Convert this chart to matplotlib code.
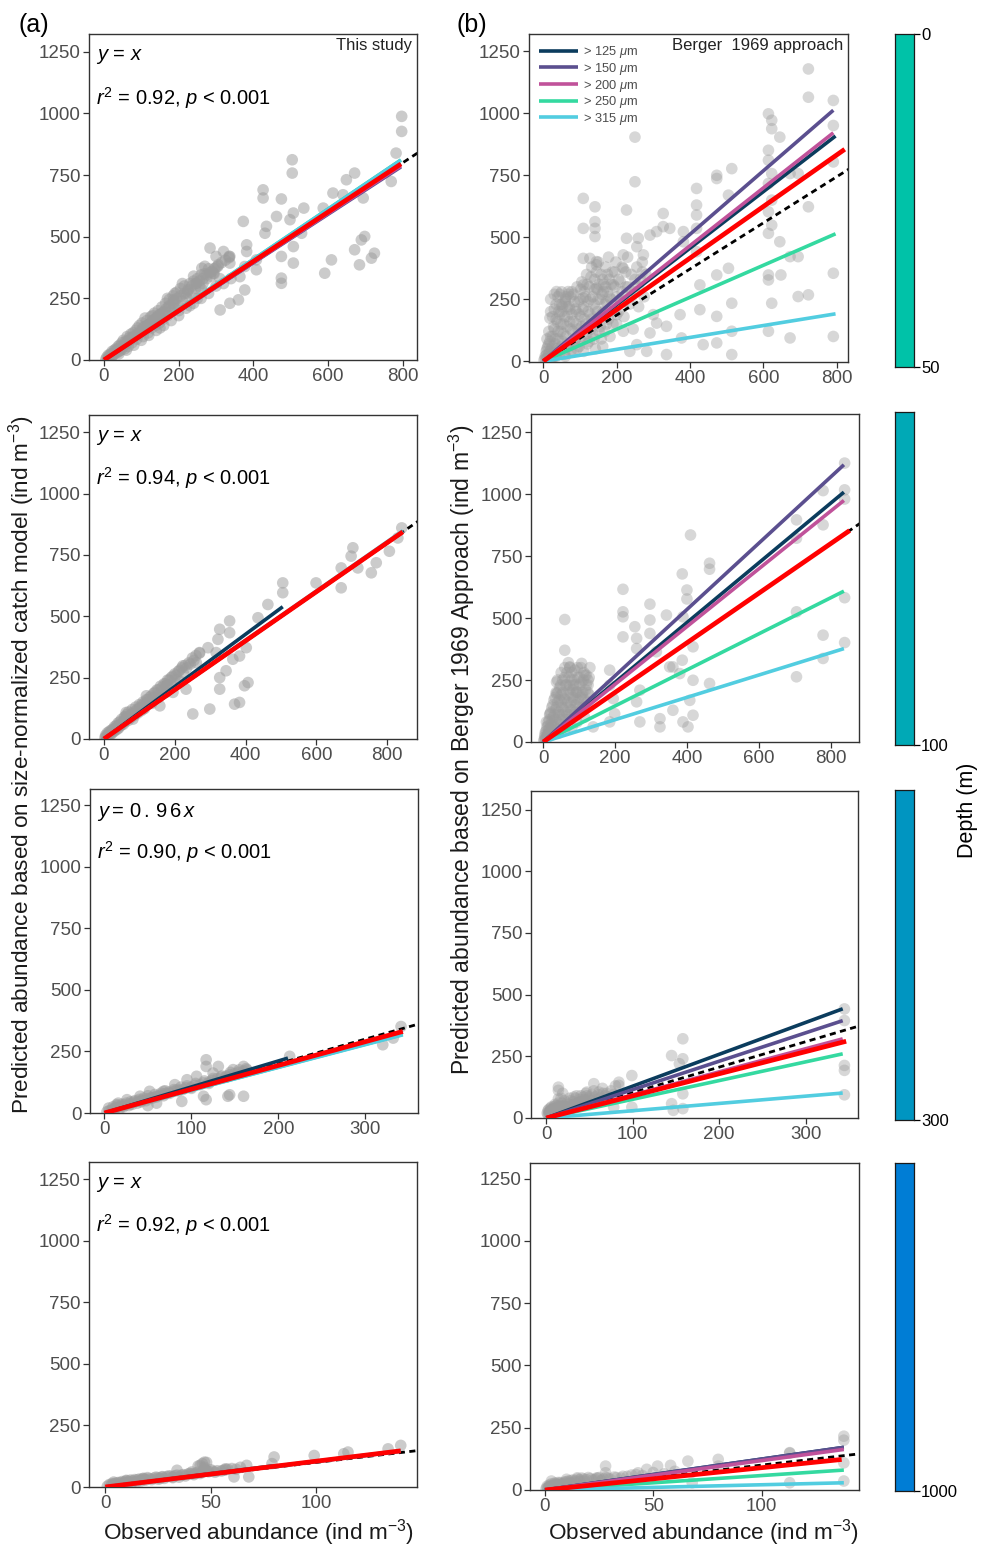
import matplotlib
matplotlib.use("Agg")
import matplotlib.pyplot as plt

plt.rcParams['font.family'] = ['Liberation Sans', 'DejaVu Sans']
plt.rcParams['mathtext.fontset'] = 'custom'
plt.rcParams['mathtext.rm'] = 'Liberation Sans'
plt.rcParams['mathtext.it'] = 'Liberation Sans:italic'

# ---- data ----
fractions = ["> 125 $\\mu$m", "> 150 $\\mu$m", "> 200 $\\mu$m", "> 250 $\\mu$m", "> 315 $\\mu$m"]
frac_colors = ["#0b3c5d", "#5b4f8f", "#c0529a", "#34d9a0", "#52cde0"]
depth_ranges = [(0, 50), (50, 100), (100, 300), (300, 1000)]
depth_colors = ["#00c2a8", "#00a9b6", "#0095c1", "#007dd5"]

# panel (a): size-normalized catch model
a1_pts = [(797, 988), (797, 927), (782, 839), (769, 724), (504, 812), (504, 758), (426, 690), (426, 657),
          (475, 653), (373, 562), (535, 616), (507, 596), (498, 569), (435, 542), (431, 514), (462, 582),
          (475, 332), (475, 311), (591, 352), (609, 406), (684, 386), (671, 447), (698, 501), (689, 487),
          (724, 433), (716, 413), (649, 731), (671, 758), (694, 657), (640, 670), (613, 677), (587, 616),
          (529, 514), (507, 460), (475, 420), (507, 393), (408, 406), (408, 366), (377, 379), (364, 338),
          (382, 467), (382, 440), (337, 420), (337, 393), (284, 454), (306, 386), (311, 203), (337, 230),
          (360, 244), (377, 284), (262, 372), (293, 352), (248, 311), (222, 271), (186, 244), (150, 176),
          (115, 135),
          (5, 3), (8, 12), (10, 5), (12, 20), (15, 10), (18, 25), (20, 15), (22, 35), (25, 20), (28, 40),
          (30, 28), (32, 45), (35, 30), (38, 55), (40, 35), (42, 60), (45, 40), (48, 70), (50, 50), (52, 80),
          (55, 45), (58, 75), (60, 65), (62, 95), (65, 55), (68, 90), (70, 80), (72, 105), (75, 70), (78, 110),
          (80, 95), (85, 120), (88, 85), (90, 130), (92, 100), (95, 140), (100, 115), (102, 150), (105, 95),
          (108, 135), (110, 120), (115, 160), (118, 110), (120, 145), (125, 175), (128, 130), (130, 160),
          (135, 190), (138, 140), (140, 170), (145, 200), (148, 150), (150, 185), (155, 215), (158, 165),
          (160, 195), (165, 230), (170, 180), (172, 215), (175, 245), (180, 200), (185, 260), (188, 210),
          (190, 240), (195, 275), (200, 220), (205, 290), (210, 240), (215, 300), (220, 255), (225, 285),
          (230, 310), (235, 270), (240, 320), (245, 290), (250, 330), (255, 300), (260, 345), (265, 310),
          (270, 350), (275, 330), (280, 370), (285, 340), (290, 360), (295, 350), (300, 375), (250, 250),
          (200, 180), (150, 130), (100, 80), (260, 290), (230, 220), (310, 330),
          (15, 18), (25, 30), (35, 42), (45, 55), (55, 62), (65, 78), (75, 90), (85, 100), (95, 115),
          (105, 130), (115, 140), (125, 150), (135, 165), (145, 180), (155, 190), (165, 205), (175, 220),
          (185, 230), (195, 250), (205, 260), (215, 270), (225, 280), (235, 300), (245, 310), (255, 320),
          (265, 330), (275, 345), (285, 355), (295, 370), (305, 380), (315, 395), (325, 405), (335, 415),
          (120, 100), (140, 120), (160, 140), (180, 160), (200, 200), (220, 210), (240, 230), (260, 250),
          (280, 270), (300, 300), (320, 310), (340, 330), (60, 40), (80, 60), (40, 25), (20, 10), (110, 170),
          (130, 180), (170, 250), (190, 270), (210, 310), (240, 340), (270, 380), (300, 420), (320, 440),
          (335, 420)]
a2_pts = [(841, 860), (830, 819), (806, 765), (769, 718), (755, 677), (703, 779), (698, 745), (717, 697),
          (670, 697), (670, 616), (599, 636), (505, 636), (505, 596), (463, 548), (435, 494), (355, 481),
          (327, 447), (322, 406), (355, 433), (317, 352), (345, 278), (327, 250), (327, 203), (299, 122),
          (251, 102), (383, 149), (369, 142), (407, 230), (397, 217), (402, 372), (383, 338), (364, 325),
          (294, 372), (270, 352), (261, 311), (223, 298), (232, 203), (195, 190), (176, 217), (158, 135),
          (120, 176), (111, 122), (82, 81), (63, 108), (44, 54),
          (3, 5), (5, 15), (8, 8), (10, 25), (12, 12), (15, 30), (18, 18), (20, 35), (22, 22), (25, 40),
          (28, 30), (30, 50), (32, 35), (35, 55), (38, 40), (40, 65), (42, 45), (45, 70), (48, 55), (50, 80),
          (55, 60), (58, 90), (60, 70), (65, 100), (68, 75), (70, 110), (75, 85), (80, 120), (85, 95),
          (90, 130), (95, 105), (100, 140), (105, 115), (110, 150), (115, 125), (120, 160), (130, 170),
          (135, 145), (140, 185), (150, 200), (155, 170), (160, 215), (170, 225), (175, 190), (180, 240),
          (190, 250), (195, 215), (200, 265), (210, 275), (215, 235), (220, 290), (230, 300), (240, 310),
          (250, 330), (260, 340), (270, 350),
          (6, 10), (14, 22), (24, 32), (34, 45), (44, 58), (54, 70), (64, 85), (74, 95), (84, 110), (94, 120),
          (104, 135), (114, 145), (124, 160), (134, 175), (144, 190), (154, 200), (164, 210), (174, 225),
          (184, 240), (194, 255), (204, 260), (214, 280), (224, 270), (234, 290), (244, 305), (254, 320),
          (60, 90), (80, 100), (100, 125), (120, 140), (140, 165), (160, 190), (180, 220), (200, 240),
          (30, 40), (40, 50), (50, 60), (70, 85), (90, 105), (110, 130)]
a3_pts = [(341, 351), (332, 304), (320, 277), (213, 230), (160, 189), (148, 176), (144, 74), (142, 68),
          (160, 68), (117, 216), (117, 189), (114, 68), (117, 54), (89, 47), (131, 189), (125, 162),
          (106, 149), (95, 135), (81, 115), (68, 88), (52, 88), (41, 68), (26, 54), (14, 34),
          (3, 5), (5, 20), (8, 10), (10, 25), (12, 15), (15, 30), (18, 20), (20, 35), (22, 25), (25, 40),
          (28, 30), (30, 45), (32, 35), (35, 50), (38, 40), (40, 55), (42, 45), (45, 60), (48, 50), (50, 70),
          (55, 60), (58, 75), (60, 65), (65, 80), (68, 70), (70, 90), (75, 80), (80, 95), (85, 90), (88, 105),
          (90, 95), (95, 110), (100, 105), (105, 120), (110, 115), (115, 130), (120, 125), (125, 140),
          (130, 140), (135, 150), (140, 150), (145, 165), (150, 160), (155, 175), (160, 170), (163, 180),
          (6, 10), (14, 22), (24, 32), (34, 45), (44, 52), (54, 62), (64, 72), (74, 85), (84, 95), (94, 102),
          (104, 112), (114, 122), (124, 132), (134, 145), (144, 155), (154, 165), (164, 175), (30, 38),
          (40, 48), (50, 58), (60, 68), (70, 78), (80, 88), (100, 100), (120, 120), (140, 145), (10, 15),
          (20, 28), (16, 40), (50, 30), (60, 40)]
a4_pts = [(140, 169), (134, 155), (115, 142), (113, 135), (99, 128), (80, 122), (79, 95), (67, 88),
          (68, 41), (61, 41), (57, 74), (47, 101), (47, 74), (45, 88), (41, 61), (34, 68), (32, 41),
          (26, 34), (18, 34), (10, 27), (4, 20),
          (1, 3), (2, 10), (3, 6), (4, 14), (5, 8), (6, 18), (7, 12), (8, 22), (9, 15), (10, 25), (11, 18),
          (12, 28), (13, 20), (14, 30), (15, 22), (16, 32), (17, 25), (18, 35), (19, 28), (20, 38), (22, 30),
          (24, 40), (25, 32), (27, 42), (28, 35), (30, 45), (32, 38), (34, 48), (35, 40), (37, 50), (38, 45),
          (40, 55), (42, 50), (44, 60), (45, 55), (47, 80), (48, 65), (50, 70), (52, 60), (55, 65), (57, 70),
          (60, 75), (62, 72), (64, 80),
          (3, 12), (5, 15), (7, 18), (9, 20), (11, 22), (13, 25), (15, 28), (17, 30), (19, 32), (21, 34),
          (23, 36), (25, 38), (27, 40), (29, 42), (31, 44), (33, 46), (36, 48), (39, 52), (41, 54), (43, 56),
          (46, 60), (49, 62), (51, 64), (53, 66), (56, 68), (58, 72), (46, 95), (48, 100), (44, 85)]

# panel (b): Berger 1969 approach
b1_pts = [(723, 1179), (723, 1065), (791, 1052), (791, 951), (791, 804), (791, 355), (791, 100), (614, 998),
          (623, 972), (623, 938), (645, 904), (614, 851), (614, 811), (623, 757), (614, 717), (623, 650),
          (614, 603), (623, 549), (614, 516), (645, 482), (673, 757), (695, 757), (723, 623), (673, 422),
          (695, 422), (614, 348), (614, 328), (648, 348), (623, 234), (695, 261), (723, 268), (614, 121),
          (673, 94), (514, 777), (473, 750), (473, 737), (505, 670), (418, 697), (418, 630), (418, 590),
          (418, 536), (418, 442), (427, 308), (427, 208), (436, 67), (473, 181), (473, 74), (514, 234),
          (514, 121), (514, 27), (505, 375), (473, 348), (382, 523), (382, 482), (327, 596), (327, 543),
          (291, 509), (309, 523), (345, 536), (373, 188), (377, 94), (336, 141), (336, 27), (309, 154),
          (300, 188), (291, 114), (250, 904), (250, 724), (227, 610), (227, 496), (218, 429), (259, 496),
          (218, 375), (255, 462), (273, 429), (109, 657), (109, 536), (141, 623), (141, 563), (141, 536),
          (141, 503), (109, 415), (127, 415), (145, 402), (145, 389), (191, 308), (164, 281), (145, 295),
          (109, 308), (109, 255), (36, 281), (68, 281), (18, 174), (45, 228), (200, 188), (218, 121),
          (236, 40), (282, 40), (255, 67),
          (2, 5), (5, 20), (8, 40), (10, 10), (12, 60), (15, 30), (18, 80), (20, 15), (22, 50), (25, 100),
          (28, 35), (30, 130), (32, 70), (35, 20), (38, 160), (40, 90), (42, 45), (45, 190), (48, 120),
          (50, 60), (52, 220), (55, 150), (58, 30), (60, 250), (62, 100), (65, 180), (68, 270), (70, 60),
          (72, 210), (75, 130), (78, 280), (80, 40), (82, 160), (85, 240), (88, 90), (90, 200), (92, 300),
          (95, 130), (98, 60), (100, 250), (102, 180), (105, 320), (108, 100), (110, 220), (112, 280),
          (115, 150), (118, 350), (120, 70), (122, 240), (125, 300), (128, 190), (130, 130), (132, 380),
          (135, 260), (138, 90), (140, 330), (142, 210), (145, 160), (148, 290), (150, 400), (152, 120),
          (155, 250), (158, 350), (160, 190), (162, 60), (165, 310), (168, 230), (170, 380), (172, 150),
          (175, 280), (178, 420), (180, 330), (182, 100), (185, 250), (188, 360), (190, 200), (195, 300),
          (198, 400), (200, 150), (205, 330), (210, 250), (215, 380), (220, 180), (225, 300), (230, 420),
          (235, 230), (240, 350), (245, 130), (250, 280), (255, 380), (260, 220), (265, 330), (270, 400),
          (275, 260), (280, 350), (30, 270), (40, 260), (20, 200), (50, 280), (60, 240), (35, 230),
          (5, 10), (8, 25), (10, 50), (12, 15), (15, 70), (18, 40), (20, 100), (22, 10), (25, 60), (28, 140),
          (30, 20), (32, 90), (35, 170), (38, 50), (40, 120), (42, 200), (45, 30), (48, 150), (50, 230),
          (52, 80), (55, 110), (58, 180), (60, 20), (62, 260), (65, 140), (68, 70), (70, 220), (72, 160),
          (75, 40), (78, 190), (80, 120), (82, 270), (85, 80), (88, 210), (90, 150), (92, 50), (95, 240),
          (98, 190), (100, 90), (102, 290), (105, 140), (108, 210), (110, 40), (112, 170), (115, 260),
          (118, 110), (120, 310), (122, 200), (125, 80), (128, 250), (130, 340), (132, 170), (135, 110),
          (138, 230), (140, 290), (142, 50), (145, 360), (148, 200), (150, 250), (152, 310), (155, 140),
          (158, 90), (160, 270), (162, 330), (165, 200), (168, 120), (170, 300), (172, 240), (175, 350),
          (178, 170), (180, 260), (185, 310), (190, 150), (195, 360), (200, 260), (205, 200), (210, 320),
          (215, 280), (220, 240), (225, 360), (230, 300), (240, 260), (250, 330), (260, 300), (270, 360),
          (15, 120), (10, 90), (25, 180), (30, 210), (50, 200), (65, 220), (75, 260), (20, 250), (45, 270)]
b2_pts = [(839, 1125), (839, 1017), (839, 980), (779, 1014), (779, 876), (705, 896), (705, 822), (410, 835),
          (839, 582), (839, 401), (779, 431), (779, 337), (705, 525), (705, 263), (463, 721), (463, 697),
          (463, 236), (387, 678), (400, 613), (400, 577), (389, 505), (417, 384), (417, 249), (387, 330),
          (361, 303), (380, 276), (408, 168), (417, 108), (403, 61), (389, 81), (361, 128), (325, 94),
          (325, 61), (222, 616), (222, 525), (222, 505), (222, 424), (255, 465), (297, 556), (297, 492),
          (297, 438), (343, 512), (260, 418), (260, 377), (315, 364), (352, 303), (269, 209), (260, 162),
          (269, 81), (185, 290), (185, 229), (195, 175), (185, 81), (199, 114), (60, 494), (60, 370),
          (107, 317), (116, 269), (74, 303), (37, 242), (74, 229), (37, 195), (93, 202), (139, 61),
          (125, 249), (19, 114), (9, 81),
          (2, 5), (4, 20), (6, 40), (8, 12), (10, 60), (12, 30), (14, 80), (16, 50), (18, 110), (20, 25),
          (22, 70), (24, 140), (26, 45), (28, 100), (30, 170), (32, 60), (34, 130), (36, 200), (38, 80),
          (40, 160), (42, 35), (44, 110), (46, 220), (48, 70), (50, 190), (52, 140), (54, 250), (56, 95),
          (58, 175), (60, 50), (62, 230), (64, 120), (66, 280), (68, 160), (70, 90), (72, 210), (74, 300),
          (76, 130), (78, 250), (80, 60), (82, 180), (84, 230), (86, 110), (88, 290), (90, 150), (92, 200),
          (94, 80), (96, 260), (98, 170), (100, 120), (102, 230), (105, 300), (108, 190), (110, 140),
          (112, 250), (115, 100), (118, 210), (120, 270), (122, 160), (125, 230), (128, 190), (130, 300),
          (3, 10), (5, 30), (7, 15), (9, 45), (11, 25), (13, 65), (15, 35), (17, 90), (19, 55), (21, 120),
          (23, 40), (25, 85), (27, 150), (29, 70), (31, 110), (33, 180), (35, 90), (37, 140), (39, 50),
          (41, 200), (43, 120), (45, 170), (47, 90), (49, 230), (51, 160), (53, 110), (55, 200), (57, 130),
          (59, 260), (61, 170), (63, 90), (65, 230), (67, 140), (69, 190), (71, 260), (73, 110), (75, 200),
          (77, 160), (79, 280), (81, 130), (83, 210), (85, 170), (87, 250), (89, 120), (91, 230), (93, 160),
          (95, 300), (97, 200), (99, 140), (101, 260), (104, 180), (107, 240), (110, 200), (113, 280),
          (116, 170), (120, 230), (124, 200), (128, 260), (60, 300), (50, 280), (70, 320), (40, 250)]
b3_pts = [(345, 442), (345, 395), (345, 213), (345, 193), (345, 94), (158, 321), (145, 253), (158, 240),
          (154, 220), (158, 98), (145, 58), (147, 31), (158, 38), (99, 172), (99, 44), (84, 145), (84, 132),
          (55, 139), (47, 105), (32, 85), (14, 112), (14, 78), (20, 44), (5, 31), (3, 24), (78, 44),
          (1, 20), (2, 30), (3, 15), (4, 25), (5, 40), (6, 20), (7, 35), (8, 28), (9, 45), (10, 22), (11, 50),
          (12, 30), (13, 38), (14, 60), (15, 25), (16, 45), (17, 80), (18, 35), (19, 100), (20, 50), (22, 30),
          (24, 60), (26, 40), (28, 70), (30, 45), (32, 55), (34, 80), (36, 50), (38, 65), (40, 90), (42, 55),
          (44, 75), (46, 100), (48, 60), (50, 85), (52, 70), (55, 110), (58, 75), (60, 95), (62, 80),
          (65, 120), (68, 90), (70, 100), (72, 85), (75, 110), (78, 95), (80, 130), (14, 125),
          (2, 15), (3, 35), (4, 20), (5, 28), (6, 45), (7, 22), (8, 38), (9, 30), (10, 55), (11, 28), (12, 42),
          (13, 35), (15, 50), (17, 40), (18, 60), (20, 40), (21, 70), (23, 45), (25, 55), (27, 80), (29, 50),
          (31, 65), (33, 55), (35, 90), (37, 60), (39, 75), (41, 65), (43, 85), (45, 70), (47, 90), (49, 75),
          (53, 95), (57, 85), (61, 105), (66, 100)]
b4_pts = [(138, 216), (138, 200), (138, 109), (138, 36), (113, 150), (113, 148), (113, 29), (80, 123),
          (80, 96), (66, 116), (68, 29), (58, 99), (52, 96), (47, 83), (43, 69), (28, 96), (28, 69),
          (24, 49), (15, 49), (10, 43), (3, 36), (2, 15),
          (0.5, 5), (1, 15), (1.5, 8), (2, 20), (2.5, 12), (3, 25), (3.5, 10), (4, 18), (4.5, 28), (5, 14),
          (5.5, 22), (6, 30), (6.5, 16), (7, 26), (8, 20), (9, 32), (10, 24), (11, 36), (12, 28), (13, 40),
          (14, 30), (15, 44), (16, 34), (17, 48), (18, 36), (19, 42), (20, 50), (22, 40), (24, 46), (26, 38),
          (28, 50), (30, 44), (32, 52), (35, 48), (38, 55), (40, 60),
          (1, 8), (2, 12), (3, 16), (4, 22), (5, 26), (6, 20), (7, 30), (8, 24), (9, 28), (10, 34), (11, 30),
          (12, 38), (14, 36), (16, 40), (18, 44), (21, 46), (23, 42), (25, 50), (27, 44), (29, 48), (33, 50),
          (36, 55), (42, 62), (45, 58), (50, 70), (55, 65), (60, 75)]

# fitted slopes: five size fractions, then the red combined fit, and x where the lines end
a1_slopes, a1_red, a1_xend = [1.0, 0.985, 0.99, 1.02, 1.02], 1.0, [795, 795, 795, 795, 795]
a2_slopes, a2_red, a2_xend = [1.067, 1.0, 1.0, 1.0, 1.005], 1.0, [505, 844, 844, 844, 844]
a3_slopes, a3_red, a3_xend = [1.056, 0.955, 0.96, 0.93, 0.925], 0.965, [211, 343, 343, 343, 343]
a4_slopes, a4_red, a4_xend = [1.08, 1.04, 1.04, 1.05, 1.05], 1.05, [80, 140, 140, 140, 140]
b1_slopes, b1_red, b1_xend = [1.14, 1.28, 1.165, 0.645, 0.24], 1.04, [797, 791, 791, 797, 797]
b2_slopes, b2_red, b2_xend = [1.204, 1.336, 1.164, 0.727, 0.45], 1.0, [837, 837, 837, 837, 837]
b3_slopes, b3_red, b3_xend = [1.29, 1.15, 0.935, 0.758, 0.295], 0.896, [343, 343, 343, 343, 343]
b4_slopes, b4_red, b4_xend = [1.24, 1.24, 1.18, 0.58, 0.21], 0.895, [138, 138, 138, 138, 138]
red_xend = [795, 844, 343, 140, 822, 853, 347, 137]
dash_slopes = [1.0, 1.0, 1.0, 1.0, 0.93, 1.0, 1.03, 1.0]

eq_texts = ["$y$ = $x$", "$y$ = $x$", "$y{=}\\,0\\,.\\,9\\,6\\,x$", "$y$ = $x$"]
r2_texts = ["$r^2$ = 0.92, $p$ < 0.001", "$r^2$ = 0.94, $p$ < 0.001",
            "$r^2$ = 0.90, $p$ < 0.001", "$r^2$ = 0.92, $p$ < 0.001"]
xticks_rows = [[0, 200, 400, 600, 800], [0, 200, 400, 600, 800], [0, 100, 200, 300], [0, 50, 100]]
yticks = [0, 250, 500, 750, 1000, 1250]

W, H = 981, 1546
fig = plt.figure(figsize=(W / 100, H / 100), dpi=100)


def px_axes(x0, x1, y0, y1):
    return fig.add_axes([x0 / W, 1 - y1 / H, (x1 - x0) / W, (y1 - y0) / H])


# pixel boxes and limits of each panel
boxes_a = [(89, 417, 34, 360), (89, 417, 415, 739), (90, 418, 789, 1113), (89, 417, 1162, 1487)]
boxes_b = [(529, 848, 34, 362), (531, 859, 414, 742), (531, 858, 791, 1118), (530, 859, 1163, 1490)]
xlims_a = [(-40, 838), (-42, 884), (-16.5, 360.5), (-7.7, 147.7)]
xlims_b = [(-39, 831), (-34, 879), (-17.7, 360.7), (-6.9, 145)]
ylims_a = [(0, 1322), (0, 1320), (0, 1315), (0, 1321)]
ylims_b = [(-3, 1320), (0, 1323), (0, 1325), (0, 1313)]

pts_a = [a1_pts, a2_pts, a3_pts, a4_pts]
pts_b = [b1_pts, b2_pts, b3_pts, b4_pts]
slopes_a = [a1_slopes, a2_slopes, a3_slopes, a4_slopes]
slopes_b = [b1_slopes, b2_slopes, b3_slopes, b4_slopes]
red_a = [a1_red, a2_red, a3_red, a4_red]
red_b = [b1_red, b2_red, b3_red, b4_red]
xend_a = [a1_xend, a2_xend, a3_xend, a4_xend]
xend_b = [b1_xend, b2_xend, b3_xend, b4_xend]


def style(ax, xlim, ylim, xt):
    ax.set_xlim(*xlim)
    ax.set_ylim(*ylim)
    ax.set_xticks(xt)
    ax.set_yticks(yticks)
    ax.tick_params(labelsize=13.5, labelcolor="#4d4d4d", length=4, width=0.9, color="#333333", pad=2)
    for s in ax.spines.values():
        s.set_color("#333333")
        s.set_linewidth(1.0)


def draw_panel(ax, pts, slopes, xends, red_slope, red_end, dash_slope, xlim, alpha):
    xs = [p[0] for p in pts]
    ys = [p[1] for p in pts]
    ax.scatter(xs, ys, s=70, color="#9c9c9c", alpha=alpha, edgecolors="none", zorder=1, clip_on=True)
    ax.plot([0, xlim[1] * 1.05], [0, dash_slope * xlim[1] * 1.05], ls=(0, (2.2, 1.6)), color="black",
            lw=2.0, zorder=2)
    lines = []
    for sl, xe, c, lab in zip(slopes, xends, frac_colors, fractions):
        ln, = ax.plot([0, xe], [0, sl * xe], color=c, lw=2.6, zorder=3, solid_capstyle="butt", label=lab)
        lines.append(ln)
    ax.plot([0, red_end], [0, red_slope * red_end], color="#ff0000", lw=3.4, zorder=4, solid_capstyle="butt")
    return lines


for i in range(4):
    ax = px_axes(*boxes_a[i])
    style(ax, xlims_a[i], ylims_a[i], xticks_rows[i])
    draw_panel(ax, pts_a[i], slopes_a[i], xend_a[i], red_a[i], red_xend[i], dash_slopes[i], xlims_a[i], 0.52)
    ax.text(0.02, 0.93, eq_texts[i], transform=ax.transAxes, fontsize=14.5, va="center", ha="left")
    ax.text(0.02, 0.805, r2_texts[i], transform=ax.transAxes, fontsize=14.5, va="center", ha="left")
    if i == 0:
        ax.text(0.985, 0.965, "This study", transform=ax.transAxes, fontsize=12, va="center", ha="right",
                color="#222222")

    bx = px_axes(*boxes_b[i])
    style(bx, xlims_b[i], ylims_b[i], xticks_rows[i])
    lines = draw_panel(bx, pts_b[i], slopes_b[i], xend_b[i], red_b[i], red_xend[4 + i], dash_slopes[4 + i],
                       xlims_b[i], 0.4)
    if i == 0:
        bx.text(0.985, 0.965, "Berger  1969 approach", transform=bx.transAxes, fontsize=12, va="center",
                ha="right", color="#222222")
        leg = bx.legend(handles=lines, loc="upper left", fontsize=9.3, frameon=True, handlelength=3.0,
                        handletextpad=0.4, labelspacing=0.05, borderaxespad=0.6, borderpad=0.2,
                        labelcolor="#4d4d4d")
        leg.get_frame().set_facecolor("white")
        leg.get_frame().set_edgecolor("none")
        leg.get_frame().set_alpha(0.85)

# depth bars
bar_boxes = [(895, 914, 34, 367), (895, 914, 412, 745), (895, 914, 790, 1120), (895, 914, 1163, 1491)]
for i, (lo, hi) in enumerate(depth_ranges):
    cx = px_axes(*bar_boxes[i])
    cx.set_facecolor(depth_colors[i])
    cx.set_ylim(hi, lo)
    cx.set_xticks([])
    cx.yaxis.tick_right()
    if i == 0:
        cx.set_yticks([lo, hi])
    else:
        cx.set_yticks([hi])
    cx.tick_params(axis="y", labelsize=12, length=4, width=0.9, pad=1, labelcolor="black")
    for s in cx.spines.values():
        s.set_linewidth(0.9)
        s.set_color("#1a1a1a")

fig.text(968 / W, 1 - 810 / H, "Depth (m)", rotation=90, fontsize=15.5, ha="center", va="center")
fig.text(34 / W, 1 - 25 / H, "(a)", fontsize=18, ha="center", va="center")
fig.text(472 / W, 1 - 25 / H, "(b)", fontsize=18, ha="center", va="center")
fig.text(22 / W, 1 - 765 / H, "Predicted abundance based on size-normalized catch model (ind m$^{-3}$)",
         rotation=90, fontsize=16.2, ha="center", va="center", color="#1a1a1a")
fig.text(462 / W, 1 - 750 / H, "Predicted abundance based on Berger 1969 Approach (ind m$^{-3}$)",
         rotation=90, fontsize=16.5, ha="center", va="center", color="#1a1a1a")
fig.text(258 / W, 1 - 1533 / H, "Observed abundance (ind m$^{-3}$)", fontsize=16.2, ha="center",
         va="center", color="#1a1a1a")
fig.text(703 / W, 1 - 1533 / H, "Observed abundance (ind m$^{-3}$)", fontsize=16.2, ha="center",
         va="center", color="#1a1a1a")

fig.savefig("out.png", dpi=100)
